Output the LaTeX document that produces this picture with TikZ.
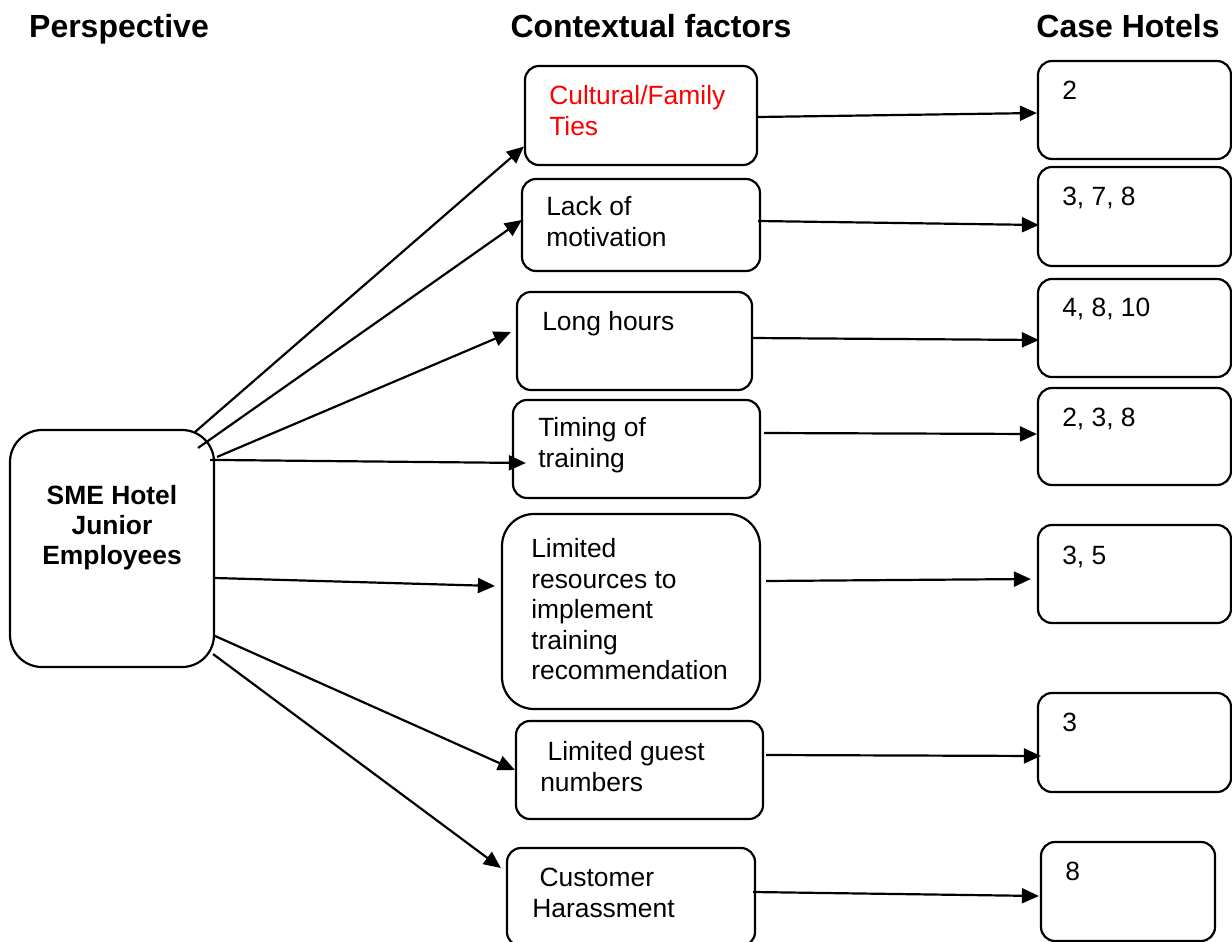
\documentclass[tikz,border=0pt]{standalone}
\usepackage{fontspec}
\setmainfont{Liberation Sans}
\usetikzlibrary{calc,arrows.meta}
\begin{document}
\begin{tikzpicture}[x=0.5pt,y=-0.5pt,
  box/.style={draw, line width=1.1pt, rounded corners=7pt, inner sep=0pt},
  bigbox/.style={box, rounded corners=16pt},
  txt/.style={inner sep=0pt, align=left, anchor=base west,
    font=\fontsize{13.2pt}{15.2pt}\selectfont},
  head/.style={inner sep=0pt, anchor=base,
    font=\fontsize{16pt}{19pt}\selectfont\bfseries},
  link/.style={line width=1.1pt, -{Triangle[length=8.5pt,width=7.5pt]}}]

\useasboundingbox (0,0) rectangle (1232,942);
\clip (0,0) rectangle (1232,942);

% column headings
\node[head] (hP) at (119,37) {Perspective};
\node[head] (hC) at (651,37) {Contextual factors};
\node[head] (hH) at (1128,37) {Case Hotels};

% perspective (text anchored at the baseline of its last line)
\node[bigbox, minimum width=102pt, minimum height=118.5pt] (L) at (112,548.5) {};
\node[txt, align=center, anchor=base, font=\fontsize{13.2pt}{15pt}\selectfont\bfseries]
  (Lt) at ($(L.north)+(0,136)$) {SME Hotel\\Junior\\Employees};

% contextual factors
\node[box, minimum width=116pt,   minimum height=49.5pt] (C1) at (641,115.5) {};
\node[box, minimum width=119pt,   minimum height=46pt]   (C2) at (641,225) {};
\node[box, minimum width=117.5pt, minimum height=49pt]   (C3) at (634.5,341) {};
\node[box, minimum width=123.5pt, minimum height=49pt]   (C4) at (636.5,449) {};
\node[bigbox, minimum width=129pt, minimum height=97.5pt] (C5) at (631,611.5) {};
\node[box, minimum width=123.5pt, minimum height=49pt]   (C6) at (639.5,770) {};
\node[box, minimum width=124pt,   minimum height=49pt]   (C7) at (631,897) {};

\node[txt, text=red] (C1t) at ($(C1.north west)+(25,70.4)$) {Cultural/Family\\Ties};
\node[txt] (C2t) at ($(C2.north west)+(25,68.4)$) {Lack of\\motivation};
\node[txt] (C3t) at ($(C3.north west)+(26,40)$) {Long hours};
\node[txt] (C4t) at ($(C4.north west)+(26,68.4)$) {Timing of\\training};
\node[txt] (C5t) at ($(C5.north west)+(30,166.6)$)
  {Limited\\resources to\\implement\\training\\recommendation};
\node[txt] (C6t) at ($(C6.north west)+(25,71.4)$) {\ Limited guest\\numbers};
\node[txt] (C7t) at ($(C7.north west)+(26,70.4)$) {\ Customer\\Harassment};

% case hotels
\node[box, minimum width=96.5pt, minimum height=49pt]   (R1) at (1134.5,110) {};
\node[box, minimum width=96.5pt, minimum height=49.5pt] (R2) at (1134.5,216.5) {};
\node[box, minimum width=96.5pt, minimum height=49pt]   (R3) at (1134.5,328) {};
\node[box, minimum width=96.5pt, minimum height=48.5pt] (R4) at (1134.5,436.5) {};
\node[box, minimum width=96.5pt, minimum height=49pt]   (R5) at (1134.5,574) {};
\node[box, minimum width=96.5pt, minimum height=49.5pt] (R6) at (1134.5,742.5) {};
\node[box, minimum width=87pt,   minimum height=49.5pt] (R7) at (1128,891.5) {};

\node[txt] (R1t) at ($(R1.north west)+(25,40)$) {2};
\node[txt] (R2t) at ($(R2.north west)+(25,40)$) {3, 7, 8};
\node[txt] (R3t) at ($(R3.north west)+(25,39)$) {4, 8, 10};
\node[txt] (R4t) at ($(R4.north west)+(25,40)$) {2, 3, 8};
\node[txt] (R5t) at ($(R5.north west)+(25,41)$) {3, 5};
\node[txt] (R6t) at ($(R6.north west)+(25,40)$) {3};
\node[txt] (R7t) at ($(R7.north west)+(25,40)$) {8};

% perspective -> factors
\draw[link] ($(L.north east)+(-20,3)$)  -- ($(C1.west)+(0,31)$);
\draw[link] ($(L.north east)+(-17,19)$) -- ($(C2.west)+(1,-5)$);
\draw[link] ($(L.north east)+(2,28)$)   -- ($(C3.west)+(-5,-9)$);
\draw[link] ($(L.north east)+(-5,31)$)  -- ($(C4.west)+(14,14)$);
\draw[link] ($(L.east)+(0,29.5)$)       -- ($(C5.west)+(-6,-25.5)$);
\draw[link] ($(L.east)+(0,87.5)$)       -- ($(C6.west)+(0,0)$);
\draw[link] ($(L.south east)+(-2,-14)$) -- ($(C7.west)+(-5,-29)$);

% factors -> case hotels
\draw[link] ($(C1.east)+(0,1.5)$)  -- ($(R1.west)+(0,3)$);
\draw[link] ($(C2.east)+(-3,-4)$)  -- ($(R2.west)+(2,8.5)$);
\draw[link] ($(C3.east)+(-2,-3)$)  -- ($(R3.west)+(2,12)$);
\draw[link] ($(C4.east)+(3,-16)$)  -- ($(R4.west)+(0,-2.5)$);
\draw[link] ($(C5.east)+(5,-30.5)$) -- ($(R5.west)+(-6,5)$);
\draw[link] ($(C6.east)+(2,-15)$)  -- ($(R6.west)+(4,13.5)$);
\draw[link] ($(C7.east)+(-3,-5)$)  -- ($(R7.west)+(-1,4.5)$);
\end{tikzpicture}
\end{document}
